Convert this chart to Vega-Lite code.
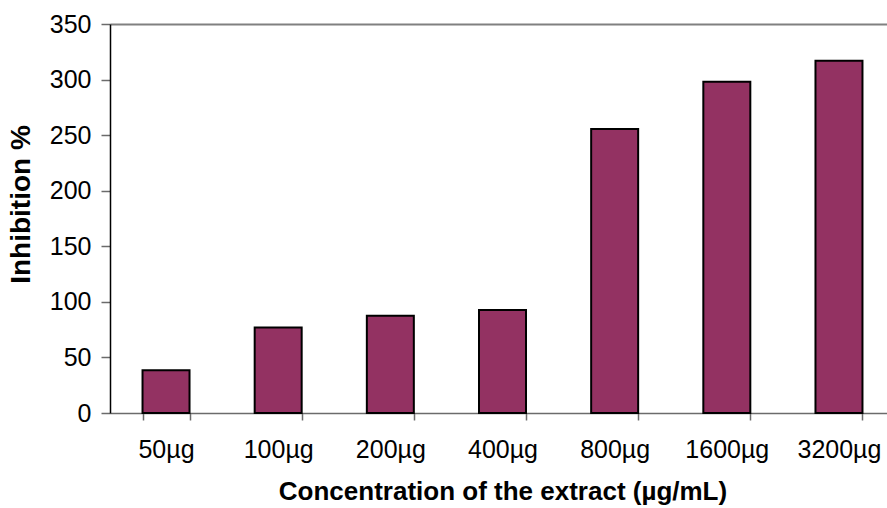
{
  "$schema": "https://vega.github.io/schema/vega-lite/v6.json",
  "autosize": "none",
  "padding": {"left": 110, "top": 24, "right": 0, "bottom": 95},
  "width": 785,
  "height": 389,
  "background": "white",
  "config": {"view": {"stroke": null}, "font": "Liberation Sans"},
  "data": {"values": [
    {"conc": "50µg", "inhibition": 38.5},
    {"conc": "100µg", "inhibition": 77},
    {"conc": "200µg", "inhibition": 87.5},
    {"conc": "400µg", "inhibition": 92.7},
    {"conc": "800µg", "inhibition": 255.5},
    {"conc": "1600µg", "inhibition": 298},
    {"conc": "3200µg", "inhibition": 317}
  ]},
  "mark": {"type": "bar", "fill": "#933262", "stroke": "#000000", "strokeWidth": 2},
  "encoding": {
    "x": {
      "field": "conc", "type": "nominal", "sort": null,
      "scale": {"paddingInner": 0.581, "paddingOuter": 0.29},
      "axis": {
        "title": "Concentration of the extract (µg/mL)",
        "titleFont": "Liberation Sans", "titleFontSize": 26, "titleFontWeight": "bold", "titleColor": "#000000",
        "titlePadding": 16,
        "labelAngle": 0, "labelFontSize": 25, "labelColor": "#000000", "labelPadding": 17,
        "tickBand": "extent", "tickSize": 7, "tickColor": "#6b6b6b", "domainColor": "#6b6b6b", "domainWidth": 1.5, "tickWidth": 1.5
      }
    },
    "y": {
      "field": "inhibition", "type": "quantitative",
      "scale": {"domain": [0, 350], "nice": false},
      "axis": {
        "title": "Inhibition %",
        "values": [0, 50, 100, 150, 200, 250, 300, 350],
        "titleFont": "Liberation Sans", "titleFontSize": 28, "titleFontWeight": "bold", "titleColor": "#000000",
        "titlePadding": 14, "titleY": 180,
        "labelFontSize": 25, "labelColor": "#000000", "labelPadding": 10,
        "tickSize": 9, "tickColor": "#6b6b6b", "domainColor": "#000000", "domainWidth": 1.5, "tickWidth": 1.5,
        "grid": true,
        "gridColor": {"condition": {"test": "datum.value == 350", "value": "#808080"}, "value": "transparent"},
        "gridWidth": 2
      }
    }
  }
}
